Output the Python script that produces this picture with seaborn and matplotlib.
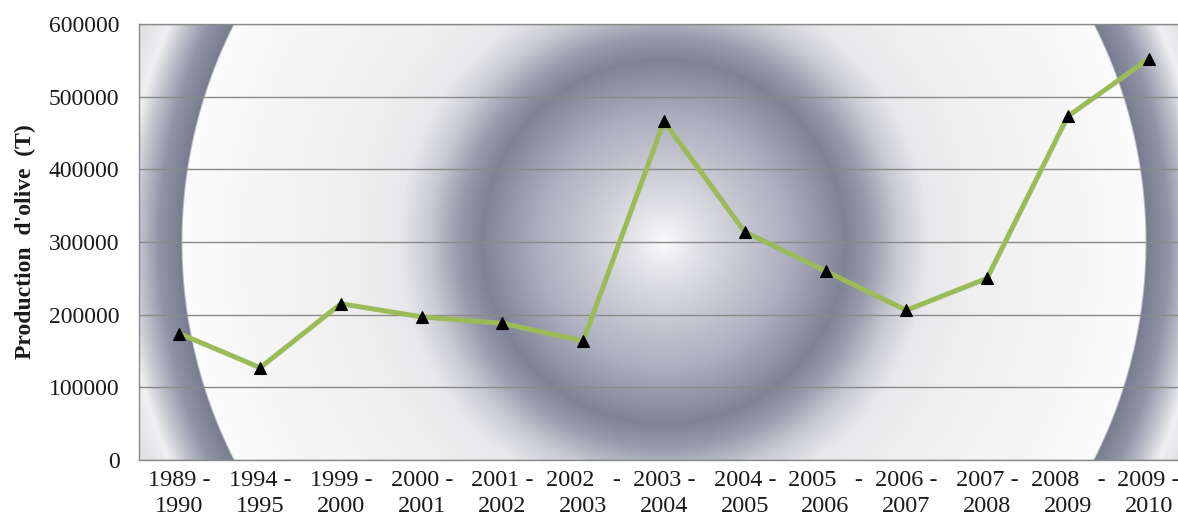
import numpy as np
import pandas as pd
import matplotlib
matplotlib.use("Agg")
import matplotlib.pyplot as plt
import seaborn as sns

# Campagnes oléicoles et production d'olive (tonnes)
periodes = [
    "1989 -\n1990", "1994 -\n1995", "1999 -\n2000", "2000 -\n2001",
    "2001 -\n2002", "2002   -\n2003", "2003 -\n2004", "2004 -\n2005",
    "2005   -\n2006", "2006 -\n2007", "2007 -\n2008", "2008   -\n2009",
    "2009 -\n2010",
]
production = [174000, 127000, 215000, 197000, 188000, 164000, 466000,
              314000, 260000, 206000, 250000, 473000, 552000]
y_ticks = [0, 100000, 200000, 300000, 400000, 500000, 600000]
y_label = "Production  d'olive  (T)"

df = pd.DataFrame({"periode": periodes, "production": production})

sns.set_theme(style="white")
plt.rcParams["font.family"] = ["Liberation Serif", "DejaVu Serif"]

W_FIG, H_FIG = 1178, 526
fig = plt.figure(figsize=(W_FIG / 100, H_FIG / 100), dpi=100)
fig.patch.set_facecolor("white")

# plot area in pixels (extends a little past the right edge of the canvas)
left_px, right_px, top_px, bottom_px = 139, 1189, 24, 460
ax = fig.add_axes([left_px / W_FIG, 1 - bottom_px / H_FIG,
                   (right_px - left_px) / W_FIG, (bottom_px - top_px) / H_FIG])

# radial gradient fill of the plot area
pw, ph = right_px - left_px, bottom_px - top_px
xx, yy = np.meshgrid(np.arange(pw) + 0.5, np.arange(ph) + 0.5)
r = np.hypot(xx - pw / 2, yy - ph / 2)
stops = np.array([0, 25, 70, 125, 182, 205, 235, 265, 320, 420, 481, 483,
                  505, 525, 540, 560, 620])
cols = np.array([
    (250, 250, 252), (232, 232, 236), (203, 205, 214), (172, 175, 190),
    (126, 131, 150), (150, 154, 170), (200, 202, 210), (232, 232, 235),
    (240, 240, 240), (246, 246, 246), (252, 252, 252), (120, 125, 145),
    (145, 149, 166), (195, 197, 206), (240, 240, 242), (226, 226, 228),
    (226, 226, 228),
]) / 255.0
img = np.dstack([np.interp(r, stops, cols[:, k]) for k in range(3)])
ax.imshow(img, extent=(-0.5, len(periodes) - 0.5, y_ticks[0], y_ticks[-1]),
          aspect="auto", interpolation="bilinear", zorder=0)

sns.lineplot(data=df, x="periode", y="production", ax=ax, color="#9bbb59",
             linewidth=3.6, marker="^", markersize=9, markerfacecolor="black",
             markeredgecolor="black", markeredgewidth=0.8, zorder=3)

ax.set_xlim(-0.5, len(periodes) - 0.5)
ax.set_ylim(y_ticks[0], y_ticks[-1])
ax.set_yticks(y_ticks)
ax.set_yticklabels([str(v) for v in y_ticks])
ax.set_xticks(range(len(periodes)))
ax.set_xticklabels(periodes, linespacing=1.3)
ax.yaxis.grid(True, color="#8a8a8a", linewidth=1.0)
ax.xaxis.grid(False)
ax.set_axisbelow(True)

for side in ["left", "top", "bottom"]:
    ax.spines[side].set_color("#8a8a8a")
    ax.spines[side].set_linewidth(1.0)
ax.spines["right"].set_visible(False)

ax.tick_params(axis="y", length=0, pad=14, labelsize=17, labelcolor="#1a1a1a")
ax.tick_params(axis="x", length=0, pad=7, labelsize=17.5, labelcolor="#1a1a1a")
ax.set_xlabel("")
ax.set_ylabel(y_label, fontsize=17, fontweight="bold", color="#1a1a1a", labelpad=9)

fig.savefig("out.png", dpi=100)
